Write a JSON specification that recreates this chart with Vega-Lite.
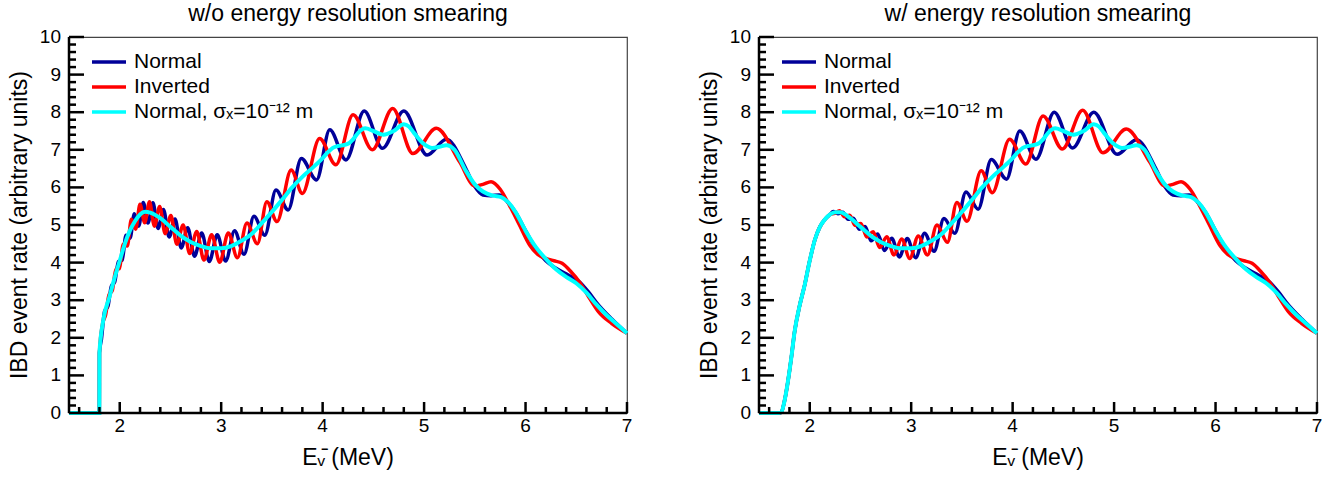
{
"$schema": "https://vega.github.io/schema/vega-lite/v6.json",
"padding": {"left": 8, "top": 2, "right": 5, "bottom": 3},
"config": {
  "font": "Liberation Sans",
  "view": {"stroke": "#444", "strokeWidth": 1.2, "fill": null},
  "title": {"font": "Liberation Sans", "fontSize": 23, "fontWeight": "normal", "color": "#000", "offset": 2},
  "legend": {"orient": "none", "legendX": 21, "legendY": 14, "title": null, "symbolType": "stroke", "symbolSize": 1156, "symbolStrokeWidth": 3.5, "labelFont": "Liberation Sans", "labelFontSize": 21, "labelColor": "#000", "labelOffset": 6, "labelLimit": 0, "clipHeight": 22, "rowPadding": 3, "padding": 0}
},
"data": {"values": [
{"p":"L","s":"N","e":1.5,"v":0},{"p":"L","s":"N","e":1.799,"v":0},{"p":"L","s":"N","e":1.8,"v":1.6},{"p":"L","s":"N","e":1.82,"v":1.97},{"p":"L","s":"N","e":1.851,"v":2.71},{"p":"L","s":"N","e":1.884,"v":2.84},{"p":"L","s":"N","e":1.917,"v":3.37},{"p":"L","s":"N","e":1.951,"v":3.49},{"p":"L","s":"N","e":1.987,"v":4.03},{"p":"L","s":"N","e":2.024,"v":4.06},{"p":"L","s":"N","e":2.062,"v":4.73},{"p":"L","s":"N","e":2.102,"v":4.65},{"p":"L","s":"N","e":2.144,"v":5.3},{"p":"L","s":"N","e":2.187,"v":4.97},{"p":"L","s":"N","e":2.232,"v":5.6},{"p":"L","s":"N","e":2.278,"v":5.05},{"p":"L","s":"N","e":2.327,"v":5.59},{"p":"L","s":"N","e":2.378,"v":4.91},{"p":"L","s":"N","e":2.431,"v":5.41},{"p":"L","s":"N","e":2.487,"v":4.68},{"p":"L","s":"N","e":2.545,"v":5.16},{"p":"L","s":"N","e":2.606,"v":4.39},{"p":"L","s":"N","e":2.67,"v":4.93},{"p":"L","s":"N","e":2.737,"v":4.17},{"p":"L","s":"N","e":2.808,"v":4.79},{"p":"L","s":"N","e":2.883,"v":4.03},{"p":"L","s":"N","e":2.961,"v":4.74},{"p":"L","s":"N","e":3.044,"v":4.04},{"p":"L","s":"N","e":3.132,"v":4.85},{"p":"L","s":"N","e":3.225,"v":4.22},{"p":"L","s":"N","e":3.323,"v":5.23},{"p":"L","s":"N","e":3.43,"v":4.73},{"p":"L","s":"N","e":3.54,"v":5.93},{"p":"L","s":"N","e":3.66,"v":5.4},{"p":"L","s":"N","e":3.79,"v":6.77},{"p":"L","s":"N","e":3.94,"v":6.2},{"p":"L","s":"N","e":4.07,"v":7.53},{"p":"L","s":"N","e":4.23,"v":6.73},{"p":"L","s":"N","e":4.41,"v":8.03},{"p":"L","s":"N","e":4.59,"v":7.04},{"p":"L","s":"N","e":4.8,"v":8.03},{"p":"L","s":"N","e":5.03,"v":6.86},{"p":"L","s":"N","e":5.22,"v":7.28},{"p":"L","s":"N","e":5.41,"v":6.51},{"p":"L","s":"N","e":5.5,"v":6.02},{"p":"L","s":"N","e":5.58,"v":5.8},{"p":"L","s":"N","e":5.66,"v":5.78},{"p":"L","s":"N","e":5.74,"v":5.8},{"p":"L","s":"N","e":5.82,"v":5.62},{"p":"L","s":"N","e":5.9,"v":5.35},{"p":"L","s":"N","e":6,"v":4.85},{"p":"L","s":"N","e":6.1,"v":4.38},{"p":"L","s":"N","e":6.2,"v":4.05},{"p":"L","s":"N","e":6.3,"v":3.85},{"p":"L","s":"N","e":6.4,"v":3.7},{"p":"L","s":"N","e":6.53,"v":3.49},{"p":"L","s":"N","e":6.62,"v":3.22},{"p":"L","s":"N","e":6.72,"v":2.87},{"p":"L","s":"N","e":6.85,"v":2.5},{"p":"L","s":"N","e":7,"v":2.12},
{"p":"L","s":"I","e":1.5,"v":0},{"p":"L","s":"I","e":1.799,"v":0},{"p":"L","s":"I","e":1.8,"v":1.6},{"p":"L","s":"I","e":1.83,"v":2.36},{"p":"L","s":"I","e":1.861,"v":2.61},{"p":"L","s":"I","e":1.894,"v":3.14},{"p":"L","s":"I","e":1.927,"v":3.26},{"p":"L","s":"I","e":1.962,"v":3.82},{"p":"L","s":"I","e":1.998,"v":3.84},{"p":"L","s":"I","e":2.035,"v":4.49},{"p":"L","s":"I","e":2.074,"v":4.44},{"p":"L","s":"I","e":2.115,"v":5.15},{"p":"L","s":"I","e":2.157,"v":4.89},{"p":"L","s":"I","e":2.2,"v":5.55},{"p":"L","s":"I","e":2.246,"v":5.06},{"p":"L","s":"I","e":2.293,"v":5.62},{"p":"L","s":"I","e":2.342,"v":4.97},{"p":"L","s":"I","e":2.394,"v":5.49},{"p":"L","s":"I","e":2.448,"v":4.77},{"p":"L","s":"I","e":2.504,"v":5.25},{"p":"L","s":"I","e":2.563,"v":4.49},{"p":"L","s":"I","e":2.625,"v":5.0},{"p":"L","s":"I","e":2.69,"v":4.24},{"p":"L","s":"I","e":2.759,"v":4.83},{"p":"L","s":"I","e":2.83,"v":4.07},{"p":"L","s":"I","e":2.906,"v":4.74},{"p":"L","s":"I","e":2.986,"v":4.01},{"p":"L","s":"I","e":3.07,"v":4.79},{"p":"L","s":"I","e":3.16,"v":4.13},{"p":"L","s":"I","e":3.254,"v":5.05},{"p":"L","s":"I","e":3.357,"v":4.5},{"p":"L","s":"I","e":3.45,"v":5.62},{"p":"L","s":"I","e":3.55,"v":5.09},{"p":"L","s":"I","e":3.69,"v":6.46},{"p":"L","s":"I","e":3.8,"v":5.84},{"p":"L","s":"I","e":3.97,"v":7.3},{"p":"L","s":"I","e":4.13,"v":6.6},{"p":"L","s":"I","e":4.3,"v":7.93},{"p":"L","s":"I","e":4.49,"v":7.0},{"p":"L","s":"I","e":4.69,"v":8.1},{"p":"L","s":"I","e":4.89,"v":6.9},{"p":"L","s":"I","e":5.12,"v":7.57},{"p":"L","s":"I","e":5.35,"v":6.68},{"p":"L","s":"I","e":5.5,"v":6.04},{"p":"L","s":"I","e":5.58,"v":6.08},{"p":"L","s":"I","e":5.66,"v":6.15},{"p":"L","s":"I","e":5.75,"v":5.95},{"p":"L","s":"I","e":5.84,"v":5.53},{"p":"L","s":"I","e":5.94,"v":5.0},{"p":"L","s":"I","e":6.04,"v":4.47},{"p":"L","s":"I","e":6.12,"v":4.22},{"p":"L","s":"I","e":6.2,"v":4.11},{"p":"L","s":"I","e":6.28,"v":4.05},{"p":"L","s":"I","e":6.36,"v":3.98},{"p":"L","s":"I","e":6.45,"v":3.75},{"p":"L","s":"I","e":6.53,"v":3.49},{"p":"L","s":"I","e":6.62,"v":3.1},{"p":"L","s":"I","e":6.72,"v":2.69},{"p":"L","s":"I","e":6.85,"v":2.38},{"p":"L","s":"I","e":7,"v":2.12},
{"p":"L","s":"C","e":1.5,"v":0},{"p":"L","s":"C","e":1.799,"v":0},{"p":"L","s":"C","e":1.8,"v":1.6},{"p":"L","s":"C","e":1.84,"v":2.5},{"p":"L","s":"C","e":1.9,"v":3.1},{"p":"L","s":"C","e":1.95,"v":3.6},{"p":"L","s":"C","e":2.0,"v":4.05},{"p":"L","s":"C","e":2.05,"v":4.5},{"p":"L","s":"C","e":2.1,"v":4.85},{"p":"L","s":"C","e":2.15,"v":5.1},{"p":"L","s":"C","e":2.2,"v":5.28},{"p":"L","s":"C","e":2.25,"v":5.35},{"p":"L","s":"C","e":2.3,"v":5.33},{"p":"L","s":"C","e":2.4,"v":5.18},{"p":"L","s":"C","e":2.5,"v":4.95},{"p":"L","s":"C","e":2.6,"v":4.72},{"p":"L","s":"C","e":2.7,"v":4.55},{"p":"L","s":"C","e":2.8,"v":4.44},{"p":"L","s":"C","e":2.9,"v":4.38},{"p":"L","s":"C","e":3.0,"v":4.38},{"p":"L","s":"C","e":3.1,"v":4.44},{"p":"L","s":"C","e":3.2,"v":4.58},{"p":"L","s":"C","e":3.3,"v":4.76},{"p":"L","s":"C","e":3.4,"v":5.05},{"p":"L","s":"C","e":3.5,"v":5.35},{"p":"L","s":"C","e":3.6,"v":5.67},{"p":"L","s":"C","e":3.7,"v":6.0},{"p":"L","s":"C","e":3.8,"v":6.28},{"p":"L","s":"C","e":3.9,"v":6.52},{"p":"L","s":"C","e":4.0,"v":6.78},{"p":"L","s":"C","e":4.05,"v":6.93},{"p":"L","s":"C","e":4.1,"v":7.05},{"p":"L","s":"C","e":4.15,"v":7.1},{"p":"L","s":"C","e":4.2,"v":7.12},{"p":"L","s":"C","e":4.25,"v":7.16},{"p":"L","s":"C","e":4.3,"v":7.28},{"p":"L","s":"C","e":4.35,"v":7.45},{"p":"L","s":"C","e":4.42,"v":7.57},{"p":"L","s":"C","e":4.5,"v":7.5},{"p":"L","s":"C","e":4.6,"v":7.4},{"p":"L","s":"C","e":4.7,"v":7.5},{"p":"L","s":"C","e":4.8,"v":7.68},{"p":"L","s":"C","e":4.85,"v":7.62},{"p":"L","s":"C","e":4.9,"v":7.45},{"p":"L","s":"C","e":5.0,"v":7.15},{"p":"L","s":"C","e":5.08,"v":7.05},{"p":"L","s":"C","e":5.15,"v":7.08},{"p":"L","s":"C","e":5.22,"v":7.12},{"p":"L","s":"C","e":5.3,"v":7.0},{"p":"L","s":"C","e":5.41,"v":6.45},{"p":"L","s":"C","e":5.5,"v":6.08},{"p":"L","s":"C","e":5.58,"v":5.89},{"p":"L","s":"C","e":5.68,"v":5.78},{"p":"L","s":"C","e":5.76,"v":5.74},{"p":"L","s":"C","e":5.83,"v":5.6},{"p":"L","s":"C","e":5.9,"v":5.35},{"p":"L","s":"C","e":6.0,"v":4.85},{"p":"L","s":"C","e":6.1,"v":4.42},{"p":"L","s":"C","e":6.2,"v":4.1},{"p":"L","s":"C","e":6.3,"v":3.82},{"p":"L","s":"C","e":6.4,"v":3.62},{"p":"L","s":"C","e":6.5,"v":3.45},{"p":"L","s":"C","e":6.6,"v":3.2},{"p":"L","s":"C","e":6.7,"v":2.88},{"p":"L","s":"C","e":6.8,"v":2.6},{"p":"L","s":"C","e":6.9,"v":2.36},{"p":"L","s":"C","e":7.0,"v":2.12},
{"p":"R","s":"N","e":1.5,"v":0},{"p":"R","s":"N","e":1.7,"v":0},{"p":"R","s":"N","e":1.72,"v":0.02},{"p":"R","s":"N","e":1.75,"v":0.3},{"p":"R","s":"N","e":1.78,"v":0.75},{"p":"R","s":"N","e":1.82,"v":1.5},{"p":"R","s":"N","e":1.85,"v":2.15},{"p":"R","s":"N","e":1.9,"v":2.85},{"p":"R","s":"N","e":1.95,"v":3.4},{"p":"R","s":"N","e":2.0,"v":4.05},{"p":"R","s":"N","e":2.05,"v":4.6},{"p":"R","s":"N","e":2.1,"v":4.95},{"p":"R","s":"N","e":2.15,"v":5.15},{"p":"R","s":"N","e":2.2,"v":5.28},{"p":"R","s":"N","e":2.232,"v":5.36},{"p":"R","s":"N","e":2.278,"v":5.3},{"p":"R","s":"N","e":2.327,"v":5.34},{"p":"R","s":"N","e":2.378,"v":5.15},{"p":"R","s":"N","e":2.431,"v":5.18},{"p":"R","s":"N","e":2.487,"v":4.89},{"p":"R","s":"N","e":2.545,"v":4.96},{"p":"R","s":"N","e":2.606,"v":4.58},{"p":"R","s":"N","e":2.67,"v":4.76},{"p":"R","s":"N","e":2.737,"v":4.32},{"p":"R","s":"N","e":2.808,"v":4.65},{"p":"R","s":"N","e":2.883,"v":4.15},{"p":"R","s":"N","e":2.961,"v":4.64},{"p":"R","s":"N","e":3.044,"v":4.13},{"p":"R","s":"N","e":3.132,"v":4.78},{"p":"R","s":"N","e":3.225,"v":4.3},{"p":"R","s":"N","e":3.323,"v":5.17},{"p":"R","s":"N","e":3.43,"v":4.78},{"p":"R","s":"N","e":3.54,"v":5.88},{"p":"R","s":"N","e":3.66,"v":5.42},{"p":"R","s":"N","e":3.79,"v":6.74},{"p":"R","s":"N","e":3.94,"v":6.22},{"p":"R","s":"N","e":4.07,"v":7.5},{"p":"R","s":"N","e":4.23,"v":6.75},{"p":"R","s":"N","e":4.41,"v":8.0},{"p":"R","s":"N","e":4.59,"v":7.05},{"p":"R","s":"N","e":4.8,"v":8.0},{"p":"R","s":"N","e":5.03,"v":6.88},{"p":"R","s":"N","e":5.22,"v":7.27},{"p":"R","s":"N","e":5.41,"v":6.51},{"p":"R","s":"N","e":5.5,"v":6.02},{"p":"R","s":"N","e":5.58,"v":5.8},{"p":"R","s":"N","e":5.66,"v":5.78},{"p":"R","s":"N","e":5.74,"v":5.8},{"p":"R","s":"N","e":5.82,"v":5.62},{"p":"R","s":"N","e":5.9,"v":5.35},{"p":"R","s":"N","e":6,"v":4.85},{"p":"R","s":"N","e":6.1,"v":4.38},{"p":"R","s":"N","e":6.2,"v":4.05},{"p":"R","s":"N","e":6.3,"v":3.85},{"p":"R","s":"N","e":6.4,"v":3.7},{"p":"R","s":"N","e":6.53,"v":3.49},{"p":"R","s":"N","e":6.62,"v":3.22},{"p":"R","s":"N","e":6.72,"v":2.87},{"p":"R","s":"N","e":6.85,"v":2.5},{"p":"R","s":"N","e":7,"v":2.12},
{"p":"R","s":"I","e":1.5,"v":0},{"p":"R","s":"I","e":1.7,"v":0},{"p":"R","s":"I","e":1.72,"v":0.02},{"p":"R","s":"I","e":1.75,"v":0.3},{"p":"R","s":"I","e":1.78,"v":0.75},{"p":"R","s":"I","e":1.82,"v":1.5},{"p":"R","s":"I","e":1.85,"v":2.15},{"p":"R","s":"I","e":1.9,"v":2.85},{"p":"R","s":"I","e":1.95,"v":3.4},{"p":"R","s":"I","e":2.0,"v":4.05},{"p":"R","s":"I","e":2.05,"v":4.6},{"p":"R","s":"I","e":2.1,"v":4.95},{"p":"R","s":"I","e":2.15,"v":5.15},{"p":"R","s":"I","e":2.2,"v":5.28},{"p":"R","s":"I","e":2.246,"v":5.31},{"p":"R","s":"I","e":2.293,"v":5.38},{"p":"R","s":"I","e":2.342,"v":5.22},{"p":"R","s":"I","e":2.394,"v":5.26},{"p":"R","s":"I","e":2.448,"v":4.99},{"p":"R","s":"I","e":2.504,"v":5.04},{"p":"R","s":"I","e":2.563,"v":4.68},{"p":"R","s":"I","e":2.625,"v":4.82},{"p":"R","s":"I","e":2.69,"v":4.4},{"p":"R","s":"I","e":2.759,"v":4.69},{"p":"R","s":"I","e":2.83,"v":4.2},{"p":"R","s":"I","e":2.906,"v":4.63},{"p":"R","s":"I","e":2.986,"v":4.11},{"p":"R","s":"I","e":3.07,"v":4.71},{"p":"R","s":"I","e":3.16,"v":4.2},{"p":"R","s":"I","e":3.254,"v":5.0},{"p":"R","s":"I","e":3.357,"v":4.54},{"p":"R","s":"I","e":3.45,"v":5.6},{"p":"R","s":"I","e":3.55,"v":5.1},{"p":"R","s":"I","e":3.69,"v":6.44},{"p":"R","s":"I","e":3.8,"v":5.86},{"p":"R","s":"I","e":3.97,"v":7.28},{"p":"R","s":"I","e":4.13,"v":6.62},{"p":"R","s":"I","e":4.3,"v":7.9},{"p":"R","s":"I","e":4.49,"v":7.02},{"p":"R","s":"I","e":4.69,"v":8.05},{"p":"R","s":"I","e":4.89,"v":6.92},{"p":"R","s":"I","e":5.12,"v":7.55},{"p":"R","s":"I","e":5.35,"v":6.68},{"p":"R","s":"I","e":5.5,"v":6.04},{"p":"R","s":"I","e":5.58,"v":6.08},{"p":"R","s":"I","e":5.66,"v":6.15},{"p":"R","s":"I","e":5.75,"v":5.95},{"p":"R","s":"I","e":5.84,"v":5.53},{"p":"R","s":"I","e":5.94,"v":5.0},{"p":"R","s":"I","e":6.04,"v":4.47},{"p":"R","s":"I","e":6.12,"v":4.22},{"p":"R","s":"I","e":6.2,"v":4.11},{"p":"R","s":"I","e":6.28,"v":4.05},{"p":"R","s":"I","e":6.36,"v":3.98},{"p":"R","s":"I","e":6.45,"v":3.75},{"p":"R","s":"I","e":6.53,"v":3.49},{"p":"R","s":"I","e":6.62,"v":3.1},{"p":"R","s":"I","e":6.72,"v":2.69},{"p":"R","s":"I","e":6.85,"v":2.38},{"p":"R","s":"I","e":7,"v":2.12},
{"p":"R","s":"C","e":1.5,"v":0},{"p":"R","s":"C","e":1.7,"v":0},{"p":"R","s":"C","e":1.72,"v":0.02},{"p":"R","s":"C","e":1.75,"v":0.3},{"p":"R","s":"C","e":1.78,"v":0.75},{"p":"R","s":"C","e":1.82,"v":1.5},{"p":"R","s":"C","e":1.85,"v":2.15},{"p":"R","s":"C","e":1.9,"v":2.85},{"p":"R","s":"C","e":1.95,"v":3.4},{"p":"R","s":"C","e":2.0,"v":4.05},{"p":"R","s":"C","e":2.05,"v":4.6},{"p":"R","s":"C","e":2.1,"v":4.95},{"p":"R","s":"C","e":2.15,"v":5.15},{"p":"R","s":"C","e":2.2,"v":5.28},{"p":"R","s":"C","e":2.25,"v":5.34},{"p":"R","s":"C","e":2.3,"v":5.34},{"p":"R","s":"C","e":2.4,"v":5.18},{"p":"R","s":"C","e":2.5,"v":4.95},{"p":"R","s":"C","e":2.6,"v":4.72},{"p":"R","s":"C","e":2.7,"v":4.55},{"p":"R","s":"C","e":2.8,"v":4.44},{"p":"R","s":"C","e":2.9,"v":4.38},{"p":"R","s":"C","e":3.0,"v":4.38},{"p":"R","s":"C","e":3.1,"v":4.44},{"p":"R","s":"C","e":3.2,"v":4.58},{"p":"R","s":"C","e":3.3,"v":4.76},{"p":"R","s":"C","e":3.4,"v":5.05},{"p":"R","s":"C","e":3.5,"v":5.35},{"p":"R","s":"C","e":3.6,"v":5.67},{"p":"R","s":"C","e":3.7,"v":6.0},{"p":"R","s":"C","e":3.8,"v":6.28},{"p":"R","s":"C","e":3.9,"v":6.52},{"p":"R","s":"C","e":4.0,"v":6.78},{"p":"R","s":"C","e":4.05,"v":6.93},{"p":"R","s":"C","e":4.1,"v":7.05},{"p":"R","s":"C","e":4.15,"v":7.1},{"p":"R","s":"C","e":4.2,"v":7.12},{"p":"R","s":"C","e":4.25,"v":7.16},{"p":"R","s":"C","e":4.3,"v":7.28},{"p":"R","s":"C","e":4.35,"v":7.45},{"p":"R","s":"C","e":4.42,"v":7.57},{"p":"R","s":"C","e":4.5,"v":7.5},{"p":"R","s":"C","e":4.6,"v":7.4},{"p":"R","s":"C","e":4.7,"v":7.5},{"p":"R","s":"C","e":4.8,"v":7.68},{"p":"R","s":"C","e":4.85,"v":7.62},{"p":"R","s":"C","e":4.9,"v":7.45},{"p":"R","s":"C","e":5.0,"v":7.15},{"p":"R","s":"C","e":5.08,"v":7.05},{"p":"R","s":"C","e":5.15,"v":7.08},{"p":"R","s":"C","e":5.22,"v":7.12},{"p":"R","s":"C","e":5.3,"v":7.0},{"p":"R","s":"C","e":5.41,"v":6.45},{"p":"R","s":"C","e":5.5,"v":6.08},{"p":"R","s":"C","e":5.58,"v":5.89},{"p":"R","s":"C","e":5.68,"v":5.78},{"p":"R","s":"C","e":5.76,"v":5.74},{"p":"R","s":"C","e":5.83,"v":5.6},{"p":"R","s":"C","e":5.9,"v":5.35},{"p":"R","s":"C","e":6.0,"v":4.85},{"p":"R","s":"C","e":6.1,"v":4.42},{"p":"R","s":"C","e":6.2,"v":4.1},{"p":"R","s":"C","e":6.3,"v":3.82},{"p":"R","s":"C","e":6.4,"v":3.62},{"p":"R","s":"C","e":6.5,"v":3.45},{"p":"R","s":"C","e":6.6,"v":3.2},{"p":"R","s":"C","e":6.7,"v":2.88},{"p":"R","s":"C","e":6.8,"v":2.6},{"p":"R","s":"C","e":6.9,"v":2.36},{"p":"R","s":"C","e":7.0,"v":2.12}
]},
"bounds": "flush",
"spacing": 132,
"resolve": {"scale": {"color": "independent"}},
"hconcat": [
 {
  "width": 558, "height": 376,
  "title": {"text": "w/o energy resolution smearing", "anchor": "middle"},
  "layer": [
    {"transform": [{"filter": "datum.p == 'L' && datum.s == 'N'"}], "mark": {"type": "line", "interpolate": "monotone", "strokeWidth": 3.5},
     "encoding": {
      "x": {"field": "e", "type": "quantitative", "scale": {"domain": [1.5, 7], "nice": false, "zero": false}, "axis": null},
      "y": {"field": "v", "type": "quantitative", "scale": {"domain": [0, 10], "nice": false}, "axis": null},
      "color": {"field": "s", "type": "nominal", "scale": {"domain": ["N", "I", "C"], "range": ["#000099", "#ff0000", "#00ffff"]},
        "legend": {"labelExpr": "datum.label == 'N' ? 'Normal' : datum.label == 'I' ? 'Inverted' : 'Normal, σₓ=10⁻¹² m'"}}
     }},
    {"transform": [{"filter": "datum.p == 'L' && datum.s == 'I'"}], "mark": {"type": "line", "interpolate": "monotone", "strokeWidth": 3.5},
     "encoding": {"x": {"field": "e", "type": "quantitative", "axis": null}, "y": {"field": "v", "type": "quantitative", "axis": null}, "color": {"field": "s", "type": "nominal"}}},
    {"transform": [{"filter": "datum.p == 'L' && datum.s == 'C'"}], "mark": {"type": "line", "interpolate": "monotone", "strokeWidth": 4},
     "encoding": {"x": {"field": "e", "type": "quantitative", "axis": null}, "y": {"field": "v", "type": "quantitative", "axis": null}, "color": {"field": "s", "type": "nominal"}}},
    {"data": {"values": [{"a": 1}]}, "mark": {"type": "rect", "fill": "#000", "height": 2.5},
     "encoding": {"x": {"datum": 1.5, "type": "quantitative", "axis": null}, "x2": {"datum": 7}, "y": {"datum": 0, "type": "quantitative", "axis": null}}},
    {"data": {"values": [{"a": 1}]}, "mark": {"type": "rect", "fill": "#000", "width": 2.5},
     "encoding": {"x": {"datum": 1.5, "type": "quantitative", "axis": null}, "y": {"datum": 0, "type": "quantitative", "axis": null}, "y2": {"datum": 10}}},
    {"data": {"values": [{"t":2},{"t":3},{"t":4},{"t":5},{"t":6},{"t":7}]}, "mark": {"type": "tick", "orient": "vertical", "color": "#000", "opacity": 1, "thickness": 2.5, "size": 11, "yOffset": -5.5},
     "encoding": {"x": {"field": "t", "type": "quantitative", "axis": null}, "y": {"datum": 0, "type": "quantitative", "axis": null}}},
    {"data": {"values": [{"t":1.6},{"t":1.8},{"t":2.2},{"t":2.4},{"t":2.6},{"t":2.8},{"t":3.2},{"t":3.4},{"t":3.6},{"t":3.8},{"t":4.2},{"t":4.4},{"t":4.6},{"t":4.8},{"t":5.2},{"t":5.4},{"t":5.6},{"t":5.8},{"t":6.2},{"t":6.4},{"t":6.6},{"t":6.8}]}, "mark": {"type": "tick", "orient": "vertical", "color": "#000", "opacity": 1, "thickness": 2.5, "size": 6, "yOffset": -3},
     "encoding": {"x": {"field": "t", "type": "quantitative", "axis": null}, "y": {"datum": 0, "type": "quantitative", "axis": null}}},
    {"data": {"values": [{"t":1},{"t":2},{"t":3},{"t":4},{"t":5},{"t":6},{"t":7},{"t":8},{"t":9},{"t":10}]}, "mark": {"type": "tick", "orient": "horizontal", "color": "#000", "opacity": 1, "thickness": 2.5, "size": 15, "xOffset": 7.5},
     "encoding": {"y": {"field": "t", "type": "quantitative", "axis": null}, "x": {"datum": 1.5, "type": "quantitative", "axis": null}}},
    {"data": {"values": [{"t":0.2},{"t":0.4},{"t":0.6},{"t":0.8},{"t":1.2},{"t":1.4},{"t":1.6},{"t":1.8},{"t":2.2},{"t":2.4},{"t":2.6},{"t":2.8},{"t":3.2},{"t":3.4},{"t":3.6},{"t":3.8},{"t":4.2},{"t":4.4},{"t":4.6},{"t":4.8},{"t":5.2},{"t":5.4},{"t":5.6},{"t":5.8},{"t":6.2},{"t":6.4},{"t":6.6},{"t":6.8},{"t":7.2},{"t":7.4},{"t":7.6},{"t":7.8},{"t":8.2},{"t":8.4},{"t":8.6},{"t":8.8},{"t":9.2},{"t":9.4},{"t":9.6},{"t":9.8}]}, "mark": {"type": "tick", "orient": "horizontal", "color": "#000", "opacity": 1, "thickness": 2.5, "size": 7, "xOffset": 3.5},
     "encoding": {"y": {"field": "t", "type": "quantitative", "axis": null}, "x": {"datum": 1.5, "type": "quantitative", "axis": null}}},
    {"data": {"values": [{"lx":2},{"lx":3},{"lx":4},{"lx":5},{"lx":6},{"lx":7}]}, "mark": {"type": "text", "font": "Liberation Sans", "fontSize": 19, "color": "#000", "align": "center", "baseline": "top", "yOffset": 4},
     "encoding": {"x": {"field": "lx", "type": "quantitative", "axis": null}, "y": {"datum": 0, "type": "quantitative", "axis": null}, "text": {"field": "lx", "type": "quantitative", "format": "d"}}},
    {"data": {"values": [{"ly":0},{"ly":1},{"ly":2},{"ly":3},{"ly":4},{"ly":5},{"ly":6},{"ly":7},{"ly":8},{"ly":9},{"ly":10}]}, "mark": {"type": "text", "font": "Liberation Sans", "fontSize": 19, "color": "#000", "align": "right", "baseline": "middle", "xOffset": -8},
     "encoding": {"y": {"field": "ly", "type": "quantitative", "axis": null}, "x": {"datum": 1.5, "type": "quantitative", "axis": null}, "text": {"field": "ly", "type": "quantitative", "format": "d"}}},
    {"data": {"values": [{"a": 1}]}, "mark": {"type": "text", "text": "Eᵥ̄ (MeV)", "font": "Liberation Sans", "fontSize": 23, "color": "#000", "align": "center", "baseline": "alphabetic", "yOffset": 52},
     "encoding": {"x": {"datum": 4.25, "type": "quantitative", "axis": null}, "y": {"datum": 0, "type": "quantitative", "axis": null}}},
    {"data": {"values": [{"a": 1}]}, "mark": {"type": "text", "text": "IBD event rate  (arbitrary units)", "font": "Liberation Sans", "fontSize": 23, "color": "#000", "align": "center", "baseline": "middle", "angle": 270, "xOffset": -49},
     "encoding": {"x": {"datum": 1.5, "type": "quantitative", "axis": null}, "y": {"datum": 5, "type": "quantitative", "axis": null}}}
  ]
 },
 {
  "width": 558, "height": 376,
  "title": {"text": "w/ energy resolution smearing", "anchor": "middle"},
  "layer": [
    {"transform": [{"filter": "datum.p == 'R' && datum.s == 'N'"}], "mark": {"type": "line", "interpolate": "monotone", "strokeWidth": 3.5},
     "encoding": {
      "x": {"field": "e", "type": "quantitative", "scale": {"domain": [1.5, 7], "nice": false, "zero": false}, "axis": null},
      "y": {"field": "v", "type": "quantitative", "scale": {"domain": [0, 10], "nice": false}, "axis": null},
      "color": {"field": "s", "type": "nominal", "scale": {"domain": ["N", "I", "C"], "range": ["#000099", "#ff0000", "#00ffff"]},
        "legend": {"labelExpr": "datum.label == 'N' ? 'Normal' : datum.label == 'I' ? 'Inverted' : 'Normal, σₓ=10⁻¹² m'"}}
     }},
    {"transform": [{"filter": "datum.p == 'R' && datum.s == 'I'"}], "mark": {"type": "line", "interpolate": "monotone", "strokeWidth": 3.5},
     "encoding": {"x": {"field": "e", "type": "quantitative", "axis": null}, "y": {"field": "v", "type": "quantitative", "axis": null}, "color": {"field": "s", "type": "nominal"}}},
    {"transform": [{"filter": "datum.p == 'R' && datum.s == 'C'"}], "mark": {"type": "line", "interpolate": "monotone", "strokeWidth": 4},
     "encoding": {"x": {"field": "e", "type": "quantitative", "axis": null}, "y": {"field": "v", "type": "quantitative", "axis": null}, "color": {"field": "s", "type": "nominal"}}},
    {"data": {"values": [{"a": 1}]}, "mark": {"type": "rect", "fill": "#000", "height": 2.5},
     "encoding": {"x": {"datum": 1.5, "type": "quantitative", "axis": null}, "x2": {"datum": 7}, "y": {"datum": 0, "type": "quantitative", "axis": null}}},
    {"data": {"values": [{"a": 1}]}, "mark": {"type": "rect", "fill": "#000", "width": 2.5},
     "encoding": {"x": {"datum": 1.5, "type": "quantitative", "axis": null}, "y": {"datum": 0, "type": "quantitative", "axis": null}, "y2": {"datum": 10}}},
    {"data": {"values": [{"t":2},{"t":3},{"t":4},{"t":5},{"t":6},{"t":7}]}, "mark": {"type": "tick", "orient": "vertical", "color": "#000", "opacity": 1, "thickness": 2.5, "size": 11, "yOffset": -5.5},
     "encoding": {"x": {"field": "t", "type": "quantitative", "axis": null}, "y": {"datum": 0, "type": "quantitative", "axis": null}}},
    {"data": {"values": [{"t":1.6},{"t":1.8},{"t":2.2},{"t":2.4},{"t":2.6},{"t":2.8},{"t":3.2},{"t":3.4},{"t":3.6},{"t":3.8},{"t":4.2},{"t":4.4},{"t":4.6},{"t":4.8},{"t":5.2},{"t":5.4},{"t":5.6},{"t":5.8},{"t":6.2},{"t":6.4},{"t":6.6},{"t":6.8}]}, "mark": {"type": "tick", "orient": "vertical", "color": "#000", "opacity": 1, "thickness": 2.5, "size": 6, "yOffset": -3},
     "encoding": {"x": {"field": "t", "type": "quantitative", "axis": null}, "y": {"datum": 0, "type": "quantitative", "axis": null}}},
    {"data": {"values": [{"t":1},{"t":2},{"t":3},{"t":4},{"t":5},{"t":6},{"t":7},{"t":8},{"t":9},{"t":10}]}, "mark": {"type": "tick", "orient": "horizontal", "color": "#000", "opacity": 1, "thickness": 2.5, "size": 15, "xOffset": 7.5},
     "encoding": {"y": {"field": "t", "type": "quantitative", "axis": null}, "x": {"datum": 1.5, "type": "quantitative", "axis": null}}},
    {"data": {"values": [{"t":0.2},{"t":0.4},{"t":0.6},{"t":0.8},{"t":1.2},{"t":1.4},{"t":1.6},{"t":1.8},{"t":2.2},{"t":2.4},{"t":2.6},{"t":2.8},{"t":3.2},{"t":3.4},{"t":3.6},{"t":3.8},{"t":4.2},{"t":4.4},{"t":4.6},{"t":4.8},{"t":5.2},{"t":5.4},{"t":5.6},{"t":5.8},{"t":6.2},{"t":6.4},{"t":6.6},{"t":6.8},{"t":7.2},{"t":7.4},{"t":7.6},{"t":7.8},{"t":8.2},{"t":8.4},{"t":8.6},{"t":8.8},{"t":9.2},{"t":9.4},{"t":9.6},{"t":9.8}]}, "mark": {"type": "tick", "orient": "horizontal", "color": "#000", "opacity": 1, "thickness": 2.5, "size": 7, "xOffset": 3.5},
     "encoding": {"y": {"field": "t", "type": "quantitative", "axis": null}, "x": {"datum": 1.5, "type": "quantitative", "axis": null}}},
    {"data": {"values": [{"lx":2},{"lx":3},{"lx":4},{"lx":5},{"lx":6},{"lx":7}]}, "mark": {"type": "text", "font": "Liberation Sans", "fontSize": 19, "color": "#000", "align": "center", "baseline": "top", "yOffset": 4},
     "encoding": {"x": {"field": "lx", "type": "quantitative", "axis": null}, "y": {"datum": 0, "type": "quantitative", "axis": null}, "text": {"field": "lx", "type": "quantitative", "format": "d"}}},
    {"data": {"values": [{"ly":0},{"ly":1},{"ly":2},{"ly":3},{"ly":4},{"ly":5},{"ly":6},{"ly":7},{"ly":8},{"ly":9},{"ly":10}]}, "mark": {"type": "text", "font": "Liberation Sans", "fontSize": 19, "color": "#000", "align": "right", "baseline": "middle", "xOffset": -8},
     "encoding": {"y": {"field": "ly", "type": "quantitative", "axis": null}, "x": {"datum": 1.5, "type": "quantitative", "axis": null}, "text": {"field": "ly", "type": "quantitative", "format": "d"}}},
    {"data": {"values": [{"a": 1}]}, "mark": {"type": "text", "text": "Eᵥ̄ (MeV)", "font": "Liberation Sans", "fontSize": 23, "color": "#000", "align": "center", "baseline": "alphabetic", "yOffset": 52},
     "encoding": {"x": {"datum": 4.25, "type": "quantitative", "axis": null}, "y": {"datum": 0, "type": "quantitative", "axis": null}}},
    {"data": {"values": [{"a": 1}]}, "mark": {"type": "text", "text": "IBD event rate  (arbitrary units)", "font": "Liberation Sans", "fontSize": 23, "color": "#000", "align": "center", "baseline": "middle", "angle": 270, "xOffset": -49},
     "encoding": {"x": {"datum": 1.5, "type": "quantitative", "axis": null}, "y": {"datum": 5, "type": "quantitative", "axis": null}}}
  ]
 }
]
}
